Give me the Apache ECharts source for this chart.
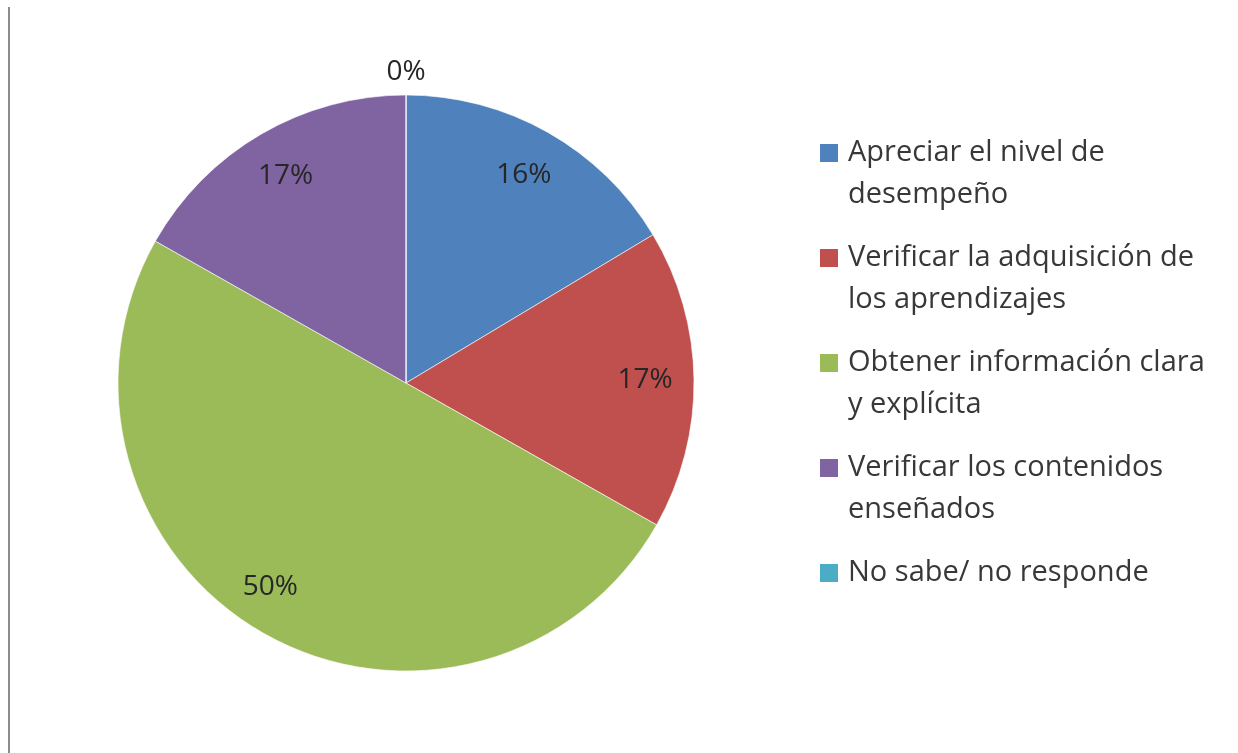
<!DOCTYPE html>
<html>
<head>
<meta charset="utf-8">
<script src="https://cdn.jsdelivr.net/npm/echarts@6/dist/echarts.min.js"></script>
<style>
  html, body { margin: 0; padding: 0; background: #fff; }
  #chart { width: 1238px; height: 753px; }
</style>
</head>
<body>
<div id="chart"></div>
<script>
// categorias (con salto de linea como en la leyenda)
const categories = [
  'Apreciar el nivel de\ndesempeño',
  'Verificar la adquisición de\nlos aprendizajes',
  'Obtener información clara\ny explícita',
  'Verificar los contenidos\nenseñados',
  'No sabe/ no responde'
];
// porcentajes
const values = [16.4, 16.8, 50, 16.8, 0];
const palette = ['#4F81BD', '#C0504D', '#9BBB59', '#8064A2', '#4BACC6'];

const chart = echarts.init(document.getElementById('chart'));

const FONT = 'Open Sans';
const center = [406, 383];
const R = 288;

// icono cuadrado alineado con la primera linea del texto
const ICON_2LINES = 'path://M0,0L23,0M0,0h18v18h-18zM0,60L23,60';
const ICON_1LINE = 'path://M0,0L23,0M0,12h18v18h-18zM0,42L23,42';

const pieData = categories.map((name, i) => ({ name: name, value: values[i] }));

// anillo transparente solo para ubicar las etiquetas mas cerca del borde
const labelData = categories.map((name, i) => {
  const item = { name: name, value: values[i] };
  if (values[i] === 0) item.label = { offset: [0, -72] };
  if (values[i] === 50) item.label = { offset: [-18, -4] };
  return item;
});

chart.setOption({
  backgroundColor: '#fff',
  color: palette,
  animation: false,
  graphic: [{
    type: 'line',
    shape: { x1: 9, y1: 7, x2: 9, y2: 753 },
    style: { stroke: '#8c8c8c', lineWidth: 2 },
    silent: true
  }],
  legend: {
    orient: 'vertical',
    left: 820,
    top: 132,
    padding: 0,
    itemGap: 21,
    itemWidth: 23,
    itemHeight: 60,
    selectedMode: false,
    itemStyle: { borderWidth: 0 },
    textStyle: {
      fontFamily: FONT,
      fontSize: 29,
      lineHeight: 42,
      color: '#383838'
    },
    data: categories.map(name => ({
      name: name,
      icon: name.indexOf('\n') >= 0 ? ICON_2LINES : ICON_1LINE
    }))
  },
  series: [
    {
      type: 'pie',
      center: center,
      radius: R,
      startAngle: 90,
      clockwise: true,
      avoidLabelOverlap: false,
      label: { show: false },
      labelLine: { show: false },
      itemStyle: { borderColor: '#ffffff', borderWidth: 0.6 },
      emphasis: { disabled: true },
      data: pieData
    },
    {
      type: 'pie',
      center: center,
      radius: [184, R],
      startAngle: 90,
      clockwise: true,
      silent: true,
      avoidLabelOverlap: false,
      percentPrecision: 0,
      itemStyle: { color: 'transparent', borderWidth: 0 },
      label: {
        show: true,
        position: 'inside',
        formatter: '{d}%',
        fontFamily: FONT,
        fontSize: 28,
        color: '#262626'
      },
      labelLine: { show: false },
      emphasis: { disabled: true },
      data: labelData
    }
  ]
});
</script>
</body>
</html>
